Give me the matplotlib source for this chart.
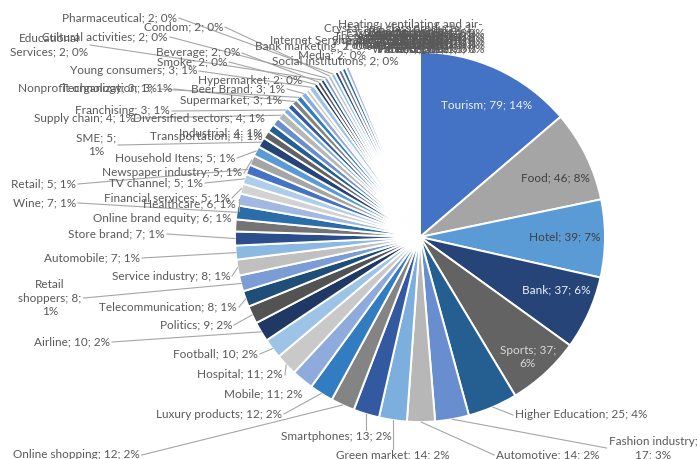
import colorsys
import matplotlib.pyplot as plt
from matplotlib.colors import to_rgb
import numpy as np

plt.rcParams['font.family'] = 'Lato'

# Sectors studied and number of papers per sector (in sheet order)
sectors = [
    'Tourism', 'Food', 'Hotel', 'Bank', 'Sports', 'Higher Education',
    'Fashion industry', 'Automotive', 'Green market', 'Smartphones',
    'Online shopping', 'Luxury products', 'Mobile', 'Hospital', 'Football',
    'Airline', 'Politics', 'Telecommunication', 'Retail shoppers',
    'Service industry', 'Automobile', 'Store brand', 'Online brand equity',
    'Wine', 'Healthcare', 'Financial services', 'TV channel', 'Retail',
    'Newspaper industry', 'Household Itens', 'SME', 'Transportation',
    'Industrial', 'Diversified sectors', 'Supply chain', 'Franchising',
    'Supermarket', 'Nonprofit organization', 'Technology', 'Beer Brand',
    'Hypermarket', 'Young consumers', 'Smoke', 'Beverage',
    'Educational Services', 'Cultural activities', 'Condom', 'Pharmaceutical',
    'Social institutions', 'Media', 'Bank marketing', 'Internet Service providers',
]
counts = [
    79, 46, 39, 37, 37, 25,
    17, 14, 14, 13,
    12, 12, 11, 11, 10,
    10, 9, 8, 8,
    8, 7, 7, 6,
    7, 6, 5, 5, 5,
    5, 5, 5, 4,
    4, 4, 4, 3,
    3, 3, 3, 3,
    2, 3, 2, 2,
    2, 2, 2, 2,
    2, 2, 2, 2,
]

# Sectors with a single paper each
single_sectors = [
    'Insurance', 'Cosmetics', 'Real estate', 'Restaurant', 'Coffee', 'Museum',
    'Pet products', 'Toys', 'Jewelry', 'Chocolate', 'Publishing', 'Music',
    'Cinema', 'Video games', 'Energy', 'Construction', 'Agribusiness', 'Dairy',
    'Furniture', 'Perfume', 'Watches', 'Logistics', 'Cruise', 'Car rental',
    'Fitness', 'Beauty', 'Lottery', 'Shopping mall', 'Pharmacy', 'Water',
    'Fast food', 'Theme park', 'Apparel', 'Footwear',
    'Crystal and glass products', 'Heating, ventilating and air-conditioning',
]
single_counts = [1] * len(single_sectors)

names = sectors + single_sectors
values = counts + single_counts
total = sum(values)

# Office accent colours, cycled through Excel's lumMod/lumOff variations
accents = ['#4472C4', '#A5A5A5', '#5B9BD5']
variations = [(1.0, 0.0), (0.6, 0.0), (0.8, 0.2), (0.8, 0.0), (0.6, 0.4),
              (0.5, 0.0), (0.7, 0.3), (0.7, 0.0), (0.5, 0.5)]


def shade(hex_color, mod, off):
    r, g, b = to_rgb(hex_color)
    h, l, s = colorsys.rgb_to_hls(r, g, b)
    return colorsys.hls_to_rgb(h, min(1.0, l * mod + off), s)


colors = []
for i in range(len(values)):
    mod, off = variations[(i // 3) % len(variations)]
    colors.append(shade(accents[i % 3], mod, off))

W, H = 697, 459
cx, cy, R = 420, 237, 185   # pie centre / radius in pixels (y from top)

fig = plt.figure(figsize=(W / 100, H / 100), dpi=100)
ax = fig.add_axes([0, 0, 1, 1])
ax.pie(values, colors=colors, startangle=90, counterclock=False,
       center=(cx, H - cy), radius=R,
       wedgeprops=dict(edgecolor='white', linewidth=1.4))
ax.set_xlim(0, W)
ax.set_ylim(0, H)
ax.set_aspect('equal')
ax.axis('off')

# label placement: x, y (pixels from top-left), alignment, line breaks
label_pos = {
    'Tourism': (487, 105, 'center', []),
    'Food': (555, 178, 'center', []),
    'Hotel': (565, 237, 'center', []),
    'Bank': (556, 290, 'center', []),
    'Sports': (528, 357, 'center', ['Sports; 37;']),
    'Higher Education': (515, 415, 'left', []),
    'Fashion industry': (653, 448, 'center', ['industry;']),
    'Automotive': (548, 455, 'center', []),
    'Green market': (393, 455, 'center', []),
    'Smartphones': (392, 436, 'right', []),
    'Online shopping': (13, 455, 'left', []),
    'Luxury products': (282, 414, 'right', []),
    'Mobile': (302, 394, 'right', []),
    'Hospital': (283, 375, 'right', []),
    'Football': (258, 354, 'right', []),
    'Airline': (110, 342, 'right', []),
    'Politics': (232, 325, 'right', []),
    'Telecommunication': (237, 307, 'right', []),
    'Retail shoppers': (50, 298, 'center', ['Retail', '8;']),
    'Service industry': (230, 276, 'right', []),
    'Automobile': (140, 258, 'right', []),
    'Store brand': (165, 234, 'right', []),
    'Online brand equity': (232, 218, 'right', []),
    'Wine': (76, 203, 'right', []),
    'Healthcare': (236, 204, 'right', []),
    'Financial services': (230, 198, 'right', []),
    'TV channel': (203, 183, 'right', []),
    'Retail': (76, 184, 'right', []),
    'Newspaper industry': (242, 173, 'right', []),
    'Household Itens': (235, 158, 'right', []),
    'SME': (96, 145, 'center', ['5;']),
    'Transportation': (263, 137, 'right', []),
    'Industrial': (263, 133, 'right', []),
    'Diversified sectors': (265, 118, 'right', []),
    'Supply chain': (135, 118, 'right', []),
    'Franchising': (170, 111, 'right', []),
    'Supermarket': (282, 100, 'right', []),
    'Nonprofit organization': (172, 89, 'right', []),
    'Technology': (157, 89, 'right', []),
    'Beer Brand': (285, 89, 'right', []),
    'Hypermarket': (302, 81, 'right', []),
    'Young consumers': (197, 71, 'right', []),
    'Smoke': (227, 62, 'right', []),
    'Beverage': (240, 53, 'right', []),
    'Educational Services': (49, 45, 'center', ['Educational']),
    'Cultural activities': (168, 37, 'right', []),
    'Condom': (223, 27, 'right', []),
    'Pharmaceutical': (177, 18, 'right', []),
    'Social institutions': (272, 61, 'left', []),
    'Media': (298, 55, 'left', []),
    'Bank marketing': (255, 47, 'left', []),
    'Internet Service providers': (270, 40, 'left', []),
    'Crystal and glass products': (400, 35, 'center', ['products; 1;']),
    'Heating, ventilating and air-conditioning': (410, 31, 'center', ['air-']),
}
inside = {'Tourism': '#EDF1F9', 'Food': '#404040', 'Hotel': '#404040',
          'Bank': '#EDF1F9', 'Sports': '#D9D9D9'}
no_leader = {'Social institutions', 'Media', 'Bank marketing',
             'Internet Service providers', 'Crystal and glass products',
             'Heating, ventilating and air-conditioning'}

# single-paper labels that pile up above the top of the pie
for k, name in enumerate(single_sectors[:-2]):
    label_pos[name] = (485 - 9 * (k // 5), 33 + 4 * (k % 5), 'right', [])
    no_leader.add(name)

texts = []
cum = 0
for name, v in zip(names, values):
    mid = 90 - 360 * (cum + v / 2) / total
    cum += v
    x, y, ha, breaks = label_pos[name]
    pct = int(100 * v / total + 0.5)
    label = f'{name}; {v}; {pct}%'
    for b in breaks:
        label = label.replace(b, b + '\n', 1).replace('\n ', '\n')
    t = ax.text(x, H - y, label, ha=ha, va='center', fontsize=8.5,
                color=inside.get(name, '#595959'), linespacing=1.25,
                multialignment='center', zorder=5)
    edge = (cx + R * np.cos(np.radians(mid)), H - cy + R * np.sin(np.radians(mid)))
    if name not in inside and name not in no_leader:
        texts.append((t, edge))

# leader lines from each outside label to its slice
fig.canvas.draw()
renderer = fig.canvas.get_renderer()
inv = ax.transData.inverted()
for t, (px, py) in texts:
    bb = t.get_window_extent(renderer)
    (x0, y0), (x1, y1) = inv.transform([[bb.x0, bb.y0], [bb.x1, bb.y1]])
    yc = (y0 + y1) / 2
    if x1 < px - 3:
        start = (x1 + 2, yc)
    elif x0 > px + 3:
        start = (x0 - 2, yc)
    elif y1 < py:
        start = (px, y1 + 1)
    else:
        start = (px, y0 - 1)
    if np.hypot(px - start[0], py - start[1]) < 10:
        continue
    ax.plot([start[0], px], [start[1], py], color='#A6A6A6', linewidth=0.8,
            zorder=1)

fig.savefig('out.png', dpi=100)
